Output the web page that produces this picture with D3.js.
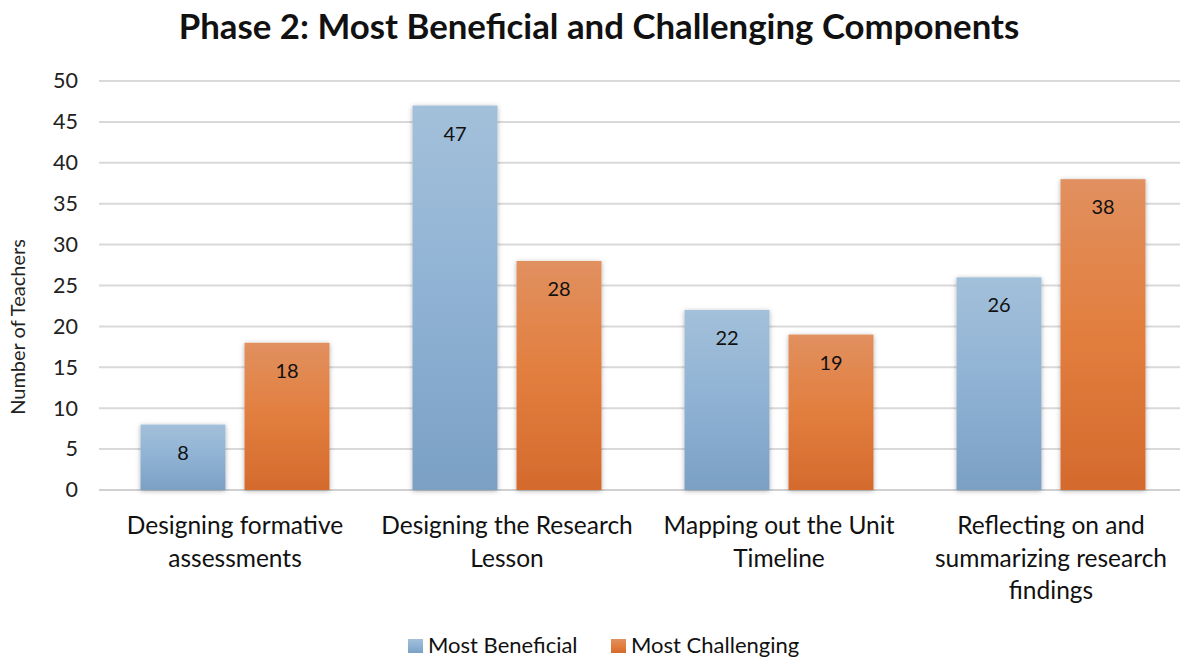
<!DOCTYPE html>
<html><head><meta charset="utf-8">
<script src="https://cdn.jsdelivr.net/npm/d3@7/dist/d3.min.js"></script>
<style>body{margin:0;background:#fff}svg{display:block;font-family:Lato,"Open Sans",sans-serif}</style>
</head><body><svg id="c" width="1180" height="658"></svg>
<script>
const categories = [["Designing formative","assessments"],["Designing the Research","Lesson"],["Mapping out the Unit","Timeline"],["Reflecting on and","summarizing research","findings"]];
const seriesNames = ["Most Beneficial","Most Challenging"];
const beneficial = [8,47,22,26];
const challenging = [18,28,19,38];
const yTicks = [0,5,10,15,20,25,30,35,40,45,50];

const svg = d3.select("#c");
const defs = svg.append("defs");
function grad(id, stops){
  const g = defs.append("linearGradient").attr("id",id).attr("x1",0).attr("y1",0).attr("x2",0).attr("y2",1);
  stops.forEach(s=>g.append("stop").attr("offset",s[0]).attr("stop-color",s[1]));
}
grad("gB",[[0,"#a3c0da"],[0.5,"#8fb2d4"],[1,"#7aa0c3"]]);
grad("gO",[[0,"#e1905f"],[0.5,"#e27e3e"],[1,"#d46a2d"]]);
const f = defs.append("filter").attr("id","sh").attr("x","-20%").attr("y","-10%").attr("width","140%").attr("height","120%");
f.append("feDropShadow").attr("dx",0).attr("dy",1).attr("stdDeviation",2.5).attr("flood-color","#000").attr("flood-opacity",0.3);

const y = d3.scaleLinear().domain([0,50]).range([490,81]);
const x0 = d3.scaleBand().domain(d3.range(categories.length)).range([99,1187]);
const x1 = d3.scaleBand().domain(seriesNames).range([41.5,230.5]).paddingInner(0.183);

// grid
svg.append("g").selectAll("line").data(yTicks).join("line")
  .attr("x1",99).attr("x2",1180).attr("y1",d=>y(d)).attr("y2",d=>y(d))
  .attr("stroke",d=>d===0?"#d0d0d0":"#d9d9d9").attr("stroke-width",2);

// y axis labels
const yAxis = d3.axisLeft(y).tickValues(yTicks).tickSize(0).tickPadding(0);
const ya = svg.append("g").attr("transform","translate(78,0)").call(yAxis);
ya.select(".domain").remove();
ya.selectAll("text").attr("font-size",21.5).attr("fill","#222").attr("font-family","Lato,sans-serif");

svg.append("text").attr("transform","translate(25,327) rotate(-90)").attr("text-anchor","middle")
  .attr("font-size",20).attr("fill","#222").text("Number of Teachers");

const data = [beneficial, challenging];
const fills = ["url(#gB)","url(#gO)"];
const groups = svg.append("g").selectAll("g").data(categories).join("g")
  .attr("transform",(d,i)=>`translate(${x0(i)},0)`);
seriesNames.forEach((s,si)=>{
  groups.append("rect").attr("x",x1(s)).attr("width",x1.bandwidth())
    .attr("y",(d,i)=>y(data[si][i])).attr("height",(d,i)=>y(0)-y(data[si][i]))
    .attr("fill",fills[si]).attr("filter","url(#sh)");
  groups.append("text").attr("x",x1(s)+x1.bandwidth()/2).attr("y",(d,i)=>y(data[si][i])+35)
    .attr("text-anchor","middle").attr("font-size",20).attr("fill","#111").text((d,i)=>data[si][i]);
});

// category labels
groups.append("text").attr("text-anchor","middle").attr("font-size",24.5).attr("fill","#111")
  .each(function(d){
    const t = d3.select(this);
    d.forEach((ln,k)=>t.append("tspan").attr("x",x0.bandwidth()/2).attr("y",534+k*32.5).text(ln));
  });

// title
svg.append("text").attr("x",599).attr("y",39).attr("text-anchor","middle").attr("font-size",34.8)
  .attr("font-weight","bold").attr("fill","#111").text("Phase 2: Most Beneficial and Challenging Components");

// legend
const leg = [[408,"#8fb2d4"],[611,"#e27e3e"]];
seriesNames.forEach((s,i)=>{
  svg.append("rect").attr("x",leg[i][0]).attr("y",639).attr("width",15).attr("height",14).attr("fill",fills[i]);
  svg.append("text").attr("x",leg[i][0]+20).attr("y",653).attr("font-size",22).attr("fill","#111").text(s);
});
</script></body></html>
